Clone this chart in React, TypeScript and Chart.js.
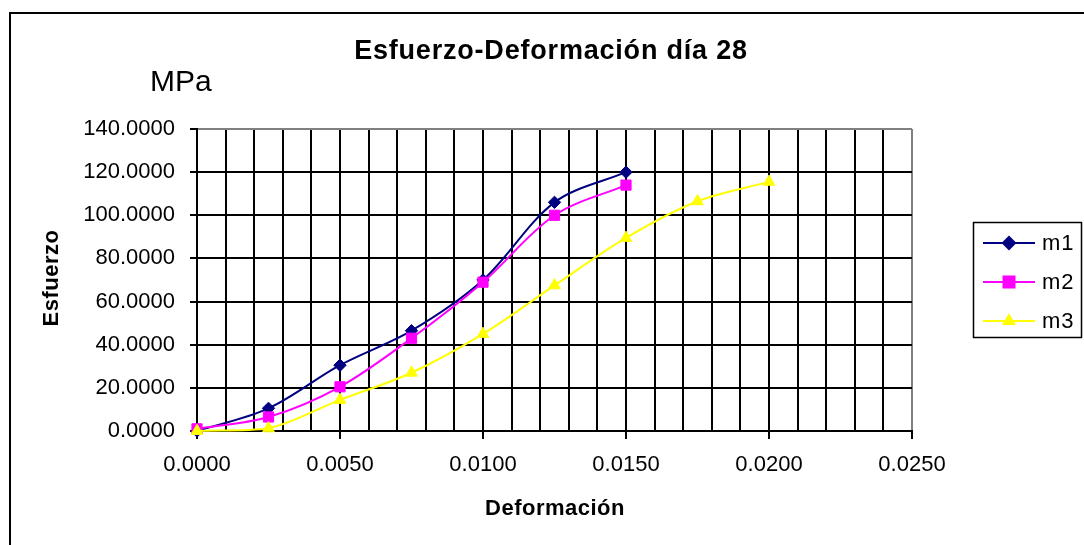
import React, { useEffect, useRef } from 'react';
import { Chart, registerables } from 'chart.js';

Chart.register(...registerables);

// ---- data ----
const strainM1M2 = [0, 0.0025, 0.005, 0.0075, 0.01, 0.0125, 0.015];
const stressM1 = [0, 10.5, 30.5, 46.5, 70, 106, 120];
const stressM2 = [1, 6.5, 20.5, 43, 69, 100, 114];
const strainM3 = [0, 0.0025, 0.005, 0.0075, 0.01, 0.0125, 0.015, 0.0175, 0.02];
const stressM3 = [0, 1.2, 14.4, 27, 45, 67.5, 89.5, 106.5, 115.5];
const seriesNames = ['m1', 'm2', 'm3'];
const seriesColors = ['#000080', '#FF00FF', '#FFFF00'];
const seriesMarkers = ['rectRot', 'rect', 'triangle'];

const titleText = 'Esfuerzo-Deformación día 28';
const unitText = 'MPa';
const yTitleText = 'Esfuerzo';
const xTitleText = 'Deformación';

const xMin = 0;
const xMax = 0.025;
const xGridStep = 0.001;
const xLabelStep = 0.005;
const yMin = 0;
const yMax = 140;
const yStep = 20;

const FONT = '"Liberation Sans", Arial, Helvetica, sans-serif';

const isMajorX = (v: number) => Math.abs(v / xLabelStep - Math.round(v / xLabelStep)) < 1e-6;

function drawMarker(ctx: CanvasRenderingContext2D, kind: string, x: number, y: number, color: string) {
  ctx.fillStyle = color;
  ctx.beginPath();
  if (kind === 'rectRot') {
    const r = 7.5;
    ctx.moveTo(x - r, y);
    ctx.lineTo(x, y - r);
    ctx.lineTo(x + r, y);
    ctx.lineTo(x, y + r);
  } else if (kind === 'rect') {
    const h = 6.5;
    ctx.rect(x - h, y - h, 2 * h, 2 * h);
  } else {
    const r = 8;
    const s = Math.sin(Math.PI / 3) * r;
    ctx.moveTo(x, y - r);
    ctx.lineTo(x + s, y + r / 2);
    ctx.lineTo(x - s, y + r / 2);
  }
  ctx.closePath();
  ctx.fill();
}

const overlayPlugin = {
  id: 'overlay',
  afterDraw(chart: any) {
    const ctx: CanvasRenderingContext2D = chart.ctx;
    ctx.save();
    // outer chart border (continues beyond the visible right/bottom edges)
    ctx.strokeStyle = '#000';
    ctx.lineWidth = 2;
    ctx.beginPath();
    ctx.moveTo(10, 560);
    ctx.lineTo(10, 13);
    ctx.lineTo(1100, 13);
    ctx.stroke();

    ctx.fillStyle = '#000';
    // title
    (ctx as any).letterSpacing = '0.8px';
    ctx.font = `bold 27px ${FONT}`;
    ctx.textAlign = 'center';
    ctx.textBaseline = 'middle';
    ctx.fillText(titleText, 551, 52);

    // unit
    (ctx as any).letterSpacing = '0px';
    ctx.font = `30px ${FONT}`;
    ctx.textAlign = 'left';
    ctx.textBaseline = 'alphabetic';
    ctx.fillText(unitText, 150, 91);

    // axis titles
    (ctx as any).letterSpacing = '0.5px';
    ctx.font = `bold 22px ${FONT}`;
    ctx.textAlign = 'center';
    ctx.textBaseline = 'middle';
    ctx.fillText(xTitleText, 555, 509);
    ctx.save();
    ctx.translate(52, 278);
    ctx.rotate(-Math.PI / 2);
    ctx.fillText(yTitleText, 0, 0);
    ctx.restore();
    (ctx as any).letterSpacing = '0px';

    // legend
    ctx.strokeStyle = '#000';
    ctx.lineWidth = 1.5;
    ctx.strokeRect(973.5, 222.5, 108, 115);
    const rowY = [243, 282, 321];
    chart.data.datasets.forEach((ds: any, i: number) => {
      const y = rowY[i];
      ctx.strokeStyle = ds.borderColor;
      ctx.lineWidth = 2;
      ctx.beginPath();
      ctx.moveTo(983, y);
      ctx.lineTo(1035, y);
      ctx.stroke();
      drawMarker(ctx, seriesMarkers[i], 1009, y, ds.borderColor);
      ctx.fillStyle = '#000';
      ctx.font = `22px ${FONT}`;
      (ctx as any).letterSpacing = '1px';
      ctx.textAlign = 'left';
      ctx.textBaseline = 'middle';
      ctx.fillText(ds.label, 1042, y + 1);
      (ctx as any).letterSpacing = '0px';
    });
    ctx.restore();
  },
};

export default function App() {
  const canvasRef = useRef<HTMLCanvasElement | null>(null);

  useEffect(() => {
    if (!canvasRef.current) return;
    const toPoints = (xs: number[], ys: number[]) => xs.map((x, i) => ({ x, y: ys[i] }));
    const seriesData = [
      toPoints(strainM1M2, stressM1),
      toPoints(strainM1M2, stressM2),
      toPoints(strainM3, stressM3),
    ];
    const markerRadius = [6.2, 7.2, 6.8];
    const chart = new Chart(canvasRef.current, {
      type: 'line',
      data: {
        datasets: seriesData.map((d, i) => ({
          label: seriesNames[i],
          data: d,
          borderColor: seriesColors[i],
          backgroundColor: seriesColors[i],
          borderWidth: 2,
          pointStyle: seriesMarkers[i] as any,
          pointRadius: markerRadius[i],
          pointBorderWidth: 1,
          pointBackgroundColor: seriesColors[i],
          pointBorderColor: seriesColors[i],
          tension: 0.33,
          fill: false,
          clip: false as any,
          order: 2 - i,
        })),
      },
      options: {
        animation: false,
        responsive: true,
        maintainAspectRatio: false,
        layout: { padding: { left: 0, top: 129, right: 172, bottom: 0 } },
        plugins: {
          legend: { display: false },
          title: { display: false },
          tooltip: { enabled: false },
        },
        scales: {
          x: {
            type: 'linear',
            min: xMin,
            max: xMax,
            ticks: {
              stepSize: xGridStep,
              maxTicksLimit: 100,
              autoSkip: false,
              maxRotation: 0,
              minRotation: 0,
              padding: 13,
              color: '#000',
              font: { family: FONT, size: 22 },
              callback: (v: any) => (isMajorX(Number(v)) ? Number(v).toFixed(4) : ''),
            },
            grid: {
              color: (c: any) => (c.tick && Math.abs(c.tick.value - xMax) < 1e-9 ? '#808080' : '#000'),
              lineWidth: 2,
              drawTicks: true,
              tickLength: 8,
              tickWidth: 2,
              tickColor: (c: any) => (c.tick && isMajorX(c.tick.value) ? '#000' : 'rgba(0,0,0,0)'),
            },
            border: { color: '#000', width: 2 },
            afterFit: (s: any) => {
              s.height = 114;
            },
          },
          y: {
            type: 'linear',
            min: yMin,
            max: yMax,
            ticks: {
              stepSize: yStep,
              padding: 15,
              color: '#000',
              font: { family: FONT, size: 22 },
              callback: (v: any) => Number(v).toFixed(4),
            },
            grid: {
              color: (c: any) => (c.tick && Math.abs(c.tick.value - yMax) < 1e-9 ? '#808080' : '#000'),
              lineWidth: 2,
              drawTicks: true,
              tickLength: 7,
              tickWidth: 2,
              tickColor: '#000',
            },
            border: { color: '#000', width: 2 },
            afterFit: (s: any) => {
              s.width = 197;
            },
          },
        },
      } as any,
      plugins: [overlayPlugin],
    });
    return () => chart.destroy();
  }, []);

  return (
    <div style={{ position: 'fixed', left: 0, top: 0, width: 1084, height: 545, background: '#fff' }}>
      <canvas ref={canvasRef} />
    </div>
  );
}
